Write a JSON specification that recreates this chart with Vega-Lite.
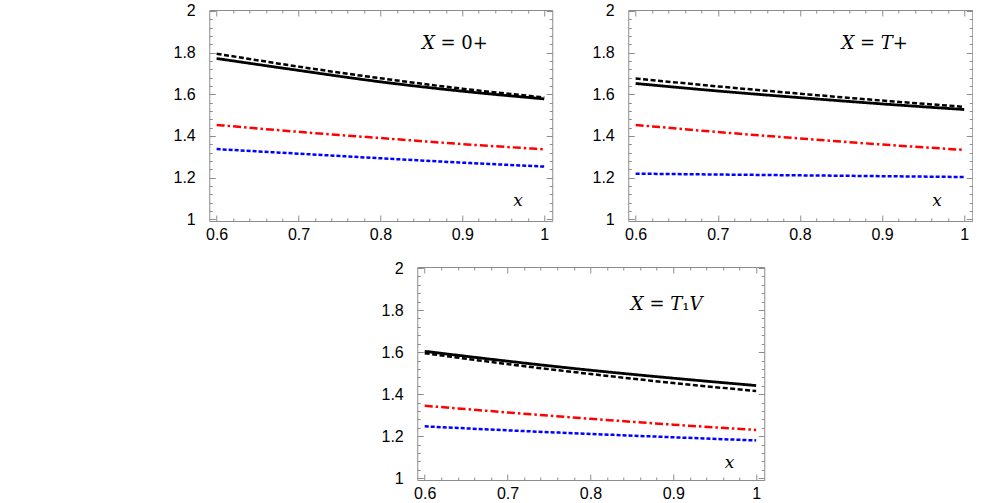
{
  "$schema": "https://vega.github.io/schema/vega-lite/v6.json",
  "padding": {"left": 173, "top": 2, "right": 0, "bottom": 0},
  "autosize": {"type": "pad"},
  "background": "white",
  "config": {
    "view": {"stroke": null},
    "axis": {
      "domainColor": "#8c8c8c",
      "tickColor": "#8c8c8c",
      "labelFont": "Liberation Sans",
      "labelFontSize": 16,
      "labelColor": "#000000",
      "grid": false,
      "title": null
    }
  },
  "datasets": {
    "curves": [
      {"panel": "A", "series": "solid", "x": 0.6, "y": 1.772},
      {"panel": "A", "series": "solid", "x": 0.7, "y": 1.715},
      {"panel": "A", "series": "solid", "x": 0.8, "y": 1.66},
      {"panel": "A", "series": "solid", "x": 0.9, "y": 1.615},
      {"panel": "A", "series": "solid", "x": 1.0, "y": 1.578},
      {"panel": "A", "series": "dashed", "x": 0.6, "y": 1.795},
      {"panel": "A", "series": "dashed", "x": 0.7, "y": 1.733},
      {"panel": "A", "series": "dashed", "x": 0.8, "y": 1.677},
      {"panel": "A", "series": "dashed", "x": 0.9, "y": 1.627},
      {"panel": "A", "series": "dashed", "x": 1.0, "y": 1.585},
      {"panel": "A", "series": "dashdot", "x": 0.6, "y": 1.453},
      {"panel": "A", "series": "dashdot", "x": 0.7, "y": 1.42},
      {"panel": "A", "series": "dashdot", "x": 0.8, "y": 1.39},
      {"panel": "A", "series": "dashdot", "x": 0.9, "y": 1.361},
      {"panel": "A", "series": "dashdot", "x": 1.0, "y": 1.336},
      {"panel": "A", "series": "dotted", "x": 0.6, "y": 1.337},
      {"panel": "A", "series": "dotted", "x": 0.7, "y": 1.315},
      {"panel": "A", "series": "dotted", "x": 0.8, "y": 1.293},
      {"panel": "A", "series": "dotted", "x": 0.9, "y": 1.272},
      {"panel": "A", "series": "dotted", "x": 1.0, "y": 1.253},
      {"panel": "B", "series": "solid", "x": 0.6, "y": 1.652},
      {"panel": "B", "series": "solid", "x": 0.7, "y": 1.616},
      {"panel": "B", "series": "solid", "x": 0.8, "y": 1.584},
      {"panel": "B", "series": "solid", "x": 0.9, "y": 1.554},
      {"panel": "B", "series": "solid", "x": 1.0, "y": 1.527},
      {"panel": "B", "series": "dashed", "x": 0.6, "y": 1.676},
      {"panel": "B", "series": "dashed", "x": 0.7, "y": 1.638},
      {"panel": "B", "series": "dashed", "x": 0.8, "y": 1.603},
      {"panel": "B", "series": "dashed", "x": 0.9, "y": 1.57},
      {"panel": "B", "series": "dashed", "x": 1.0, "y": 1.54},
      {"panel": "B", "series": "dashdot", "x": 0.6, "y": 1.453},
      {"panel": "B", "series": "dashdot", "x": 0.7, "y": 1.419},
      {"panel": "B", "series": "dashdot", "x": 0.8, "y": 1.388},
      {"panel": "B", "series": "dashdot", "x": 0.9, "y": 1.359},
      {"panel": "B", "series": "dashdot", "x": 1.0, "y": 1.333},
      {"panel": "B", "series": "dotted", "x": 0.6, "y": 1.219},
      {"panel": "B", "series": "dotted", "x": 0.7, "y": 1.215},
      {"panel": "B", "series": "dotted", "x": 0.8, "y": 1.211},
      {"panel": "B", "series": "dotted", "x": 0.9, "y": 1.207},
      {"panel": "B", "series": "dotted", "x": 1.0, "y": 1.203},
      {"panel": "C", "series": "solid", "x": 0.6, "y": 1.604},
      {"panel": "C", "series": "solid", "x": 0.7, "y": 1.557},
      {"panel": "C", "series": "solid", "x": 0.8, "y": 1.514},
      {"panel": "C", "series": "solid", "x": 0.9, "y": 1.476},
      {"panel": "C", "series": "solid", "x": 1.0, "y": 1.441},
      {"panel": "C", "series": "dashed", "x": 0.6, "y": 1.595},
      {"panel": "C", "series": "dashed", "x": 0.7, "y": 1.543},
      {"panel": "C", "series": "dashed", "x": 0.8, "y": 1.496},
      {"panel": "C", "series": "dashed", "x": 0.9, "y": 1.453},
      {"panel": "C", "series": "dashed", "x": 1.0, "y": 1.415},
      {"panel": "C", "series": "dashdot", "x": 0.6, "y": 1.345},
      {"panel": "C", "series": "dashdot", "x": 0.7, "y": 1.313},
      {"panel": "C", "series": "dashdot", "x": 0.8, "y": 1.283},
      {"panel": "C", "series": "dashdot", "x": 0.9, "y": 1.255},
      {"panel": "C", "series": "dashdot", "x": 1.0, "y": 1.23},
      {"panel": "C", "series": "dotted", "x": 0.6, "y": 1.247},
      {"panel": "C", "series": "dotted", "x": 0.7, "y": 1.228},
      {"panel": "C", "series": "dotted", "x": 0.8, "y": 1.211},
      {"panel": "C", "series": "dotted", "x": 0.9, "y": 1.195},
      {"panel": "C", "series": "dotted", "x": 1.0, "y": 1.18}
    ],
    "notes": [
      {"panel": "A", "kind": "title", "text": "𝑋 = 0+", "x": 0.891, "y": 1.842},
      {"panel": "A", "kind": "var", "text": "𝑥", "x": 0.968, "y": 1.088},
      {"panel": "B", "kind": "title", "text": "𝑋 = 𝑇+", "x": 0.891, "y": 1.842},
      {"panel": "B", "kind": "var", "text": "𝑥", "x": 0.967, "y": 1.088},
      {"panel": "C", "kind": "title", "text": "𝑋 = 𝑇₁𝑉", "x": 0.892, "y": 1.822},
      {"panel": "C", "kind": "var", "text": "𝑥", "x": 0.968, "y": 1.075}
    ]
  },
  "spacing": 15,
  "center": true,
  "vconcat": [
    {
      "spacing": 38,
      "hconcat": [
        {
          "width": 343, "height": 211,
          "resolve": {"axis": {"x": "independent", "y": "independent"}},
          "layer": [
            {
              "data": {"name": "curves"},
              "transform": [{"filter": "datum.panel === 'A' && datum.series === 'solid'"}],
              "mark": {"type": "line", "interpolate": "monotone", "strokeWidth": 2.8},
              "encoding": {
                "x": {"field": "x", "type": "quantitative", "scale": {"domain": [0.591, 1.0098], "nice": false, "zero": false},
                  "axis": {"orient": "bottom", "values": [0.6,0.62,0.64,0.66,0.68,0.7,0.72,0.74,0.76,0.78,0.8,0.82,0.84,0.86,0.88,0.9,0.92,0.94,0.96,0.98,1.0],
                    "labelExpr": "abs(datum.value*10-round(datum.value*10))<0.001 ? (datum.value>0.999 ? '1' : format(datum.value,'.1f')) : ''",
                    "tickSize": {"condition": {"test": "abs(datum.value*10-round(datum.value*10))<0.001", "value": -6}, "value": -3},
                    "labelPadding": 11, "labelFlush": false, "labelOverlap": false}},
                "y": {"field": "y", "type": "quantitative", "scale": {"domain": [0.9918, 2.0048], "nice": false, "zero": false},
                  "axis": {"orient": "left", "values": [1,1.04,1.08,1.12,1.16,1.2,1.24,1.28,1.32,1.36,1.4,1.44,1.48,1.52,1.56,1.6,1.64,1.68,1.72,1.76,1.8,1.84,1.88,1.92,1.96,2],
                    "labelExpr": "abs(datum.value*5-round(datum.value*5))<0.001 ? (abs(datum.value-round(datum.value))<0.001 ? format(datum.value,'.0f') : format(datum.value,'.1f')) : ''",
                    "tickSize": {"condition": {"test": "abs(datum.value*5-round(datum.value*5))<0.001", "value": -6}, "value": -3},
                    "labelPadding": 20, "labelFlush": false, "labelOverlap": false}},
                "color": {"field": "series", "type": "nominal", "legend": null, "scale": {"domain": ["solid", "dashed", "dashdot", "dotted"], "range": ["#000000", "#000000", "#ff0000", "#0000ff"]}},
                "strokeDash": {"field": "series", "type": "nominal", "legend": null, "scale": {"domain": ["solid", "dashed", "dashdot", "dotted"], "range": [[1, 0], [5, 2.5], [8, 3, 2.5, 3], [4, 2]]}}
              }
            },
            {
              "data": {"name": "curves"},
              "transform": [{"filter": "datum.panel === 'A' && datum.series !== 'solid'"}],
              "mark": {"type": "line", "interpolate": "monotone", "strokeWidth": 2.5},
              "encoding": {
                "x": {"field": "x", "type": "quantitative", "scale": {"domain": [0.591, 1.0098], "nice": false, "zero": false},
                  "axis": {"orient": "top", "labels": false, "values": [0.6,0.62,0.64,0.66,0.68,0.7,0.72,0.74,0.76,0.78,0.8,0.82,0.84,0.86,0.88,0.9,0.92,0.94,0.96,0.98,1.0],
                    "tickSize": {"condition": {"test": "abs(datum.value*10-round(datum.value*10))<0.001", "value": -6}, "value": -3}}},
                "y": {"field": "y", "type": "quantitative", "scale": {"domain": [0.9918, 2.0048], "nice": false, "zero": false},
                  "axis": {"orient": "right", "labels": false, "values": [1,1.04,1.08,1.12,1.16,1.2,1.24,1.28,1.32,1.36,1.4,1.44,1.48,1.52,1.56,1.6,1.64,1.68,1.72,1.76,1.8,1.84,1.88,1.92,1.96,2],
                    "tickSize": {"condition": {"test": "abs(datum.value*5-round(datum.value*5))<0.001", "value": -6}, "value": -3}}},
                "color": {"field": "series", "type": "nominal", "legend": null, "scale": {"domain": ["solid", "dashed", "dashdot", "dotted"], "range": ["#000000", "#000000", "#ff0000", "#0000ff"]}},
                "strokeDash": {"field": "series", "type": "nominal", "legend": null, "scale": {"domain": ["solid", "dashed", "dashdot", "dotted"], "range": [[1, 0], [5, 2.5], [8, 3, 2.5, 3], [4, 2]]}}
              }
            },
            {
              "data": {"name": "notes"},
              "transform": [{"filter": "datum.panel === 'A' && datum.kind === 'title'"}],
              "mark": {"type": "text", "font": "DejaVu Serif", "fontSize": 18, "align": "center", "baseline": "middle", "color": "#000000"},
              "encoding": {
                "x": {"field": "x", "type": "quantitative", "axis": null, "scale": {"domain": [0.591, 1.0098], "nice": false, "zero": false}},
                "y": {"field": "y", "type": "quantitative", "axis": null, "scale": {"domain": [0.9918, 2.0048], "nice": false, "zero": false}},
                "text": {"field": "text"}
              }
            },
            {
              "data": {"name": "notes"},
              "transform": [{"filter": "datum.panel === 'A' && datum.kind === 'var'"}],
              "mark": {"type": "text", "font": "DejaVu Serif", "fontSize": 17, "align": "center", "baseline": "middle", "color": "#000000"},
              "encoding": {
                "x": {"field": "x", "type": "quantitative", "axis": null, "scale": {"domain": [0.591, 1.0098], "nice": false, "zero": false}},
                "y": {"field": "y", "type": "quantitative", "axis": null, "scale": {"domain": [0.9918, 2.0048], "nice": false, "zero": false}},
                "text": {"field": "text"}
              }
            }
          ]
        },
        {
          "width": 344, "height": 211,
          "resolve": {"axis": {"x": "independent", "y": "independent"}},
          "layer": [
            {
              "data": {"name": "curves"},
              "transform": [{"filter": "datum.panel === 'B' && datum.series === 'solid'"}],
              "mark": {"type": "line", "interpolate": "monotone", "strokeWidth": 2.8},
              "encoding": {
                "x": {"field": "x", "type": "quantitative", "scale": {"domain": [0.591, 1.0098], "nice": false, "zero": false},
                  "axis": {"orient": "bottom", "values": [0.6,0.62,0.64,0.66,0.68,0.7,0.72,0.74,0.76,0.78,0.8,0.82,0.84,0.86,0.88,0.9,0.92,0.94,0.96,0.98,1.0],
                    "labelExpr": "abs(datum.value*10-round(datum.value*10))<0.001 ? (datum.value>0.999 ? '1' : format(datum.value,'.1f')) : ''",
                    "tickSize": {"condition": {"test": "abs(datum.value*10-round(datum.value*10))<0.001", "value": -6}, "value": -3},
                    "labelPadding": 11, "labelFlush": false, "labelOverlap": false}},
                "y": {"field": "y", "type": "quantitative", "scale": {"domain": [0.9918, 2.0048], "nice": false, "zero": false},
                  "axis": {"orient": "left", "values": [1,1.04,1.08,1.12,1.16,1.2,1.24,1.28,1.32,1.36,1.4,1.44,1.48,1.52,1.56,1.6,1.64,1.68,1.72,1.76,1.8,1.84,1.88,1.92,1.96,2],
                    "labelExpr": "abs(datum.value*5-round(datum.value*5))<0.001 ? (abs(datum.value-round(datum.value))<0.001 ? format(datum.value,'.0f') : format(datum.value,'.1f')) : ''",
                    "tickSize": {"condition": {"test": "abs(datum.value*5-round(datum.value*5))<0.001", "value": -6}, "value": -3},
                    "labelPadding": 20, "labelFlush": false, "labelOverlap": false}},
                "color": {"field": "series", "type": "nominal", "legend": null, "scale": {"domain": ["solid", "dashed", "dashdot", "dotted"], "range": ["#000000", "#000000", "#ff0000", "#0000ff"]}},
                "strokeDash": {"field": "series", "type": "nominal", "legend": null, "scale": {"domain": ["solid", "dashed", "dashdot", "dotted"], "range": [[1, 0], [5, 2.5], [8, 3, 2.5, 3], [4, 2]]}}
              }
            },
            {
              "data": {"name": "curves"},
              "transform": [{"filter": "datum.panel === 'B' && datum.series !== 'solid'"}],
              "mark": {"type": "line", "interpolate": "monotone", "strokeWidth": 2.5},
              "encoding": {
                "x": {"field": "x", "type": "quantitative", "scale": {"domain": [0.591, 1.0098], "nice": false, "zero": false},
                  "axis": {"orient": "top", "labels": false, "values": [0.6,0.62,0.64,0.66,0.68,0.7,0.72,0.74,0.76,0.78,0.8,0.82,0.84,0.86,0.88,0.9,0.92,0.94,0.96,0.98,1.0],
                    "tickSize": {"condition": {"test": "abs(datum.value*10-round(datum.value*10))<0.001", "value": -6}, "value": -3}}},
                "y": {"field": "y", "type": "quantitative", "scale": {"domain": [0.9918, 2.0048], "nice": false, "zero": false},
                  "axis": {"orient": "right", "labels": false, "values": [1,1.04,1.08,1.12,1.16,1.2,1.24,1.28,1.32,1.36,1.4,1.44,1.48,1.52,1.56,1.6,1.64,1.68,1.72,1.76,1.8,1.84,1.88,1.92,1.96,2],
                    "tickSize": {"condition": {"test": "abs(datum.value*5-round(datum.value*5))<0.001", "value": -6}, "value": -3}}},
                "color": {"field": "series", "type": "nominal", "legend": null, "scale": {"domain": ["solid", "dashed", "dashdot", "dotted"], "range": ["#000000", "#000000", "#ff0000", "#0000ff"]}},
                "strokeDash": {"field": "series", "type": "nominal", "legend": null, "scale": {"domain": ["solid", "dashed", "dashdot", "dotted"], "range": [[1, 0], [5, 2.5], [8, 3, 2.5, 3], [4, 2]]}}
              }
            },
            {
              "data": {"name": "notes"},
              "transform": [{"filter": "datum.panel === 'B' && datum.kind === 'title'"}],
              "mark": {"type": "text", "font": "DejaVu Serif", "fontSize": 18, "align": "center", "baseline": "middle", "color": "#000000"},
              "encoding": {
                "x": {"field": "x", "type": "quantitative", "axis": null, "scale": {"domain": [0.591, 1.0098], "nice": false, "zero": false}},
                "y": {"field": "y", "type": "quantitative", "axis": null, "scale": {"domain": [0.9918, 2.0048], "nice": false, "zero": false}},
                "text": {"field": "text"}
              }
            },
            {
              "data": {"name": "notes"},
              "transform": [{"filter": "datum.panel === 'B' && datum.kind === 'var'"}],
              "mark": {"type": "text", "font": "DejaVu Serif", "fontSize": 17, "align": "center", "baseline": "middle", "color": "#000000"},
              "encoding": {
                "x": {"field": "x", "type": "quantitative", "axis": null, "scale": {"domain": [0.591, 1.0098], "nice": false, "zero": false}},
                "y": {"field": "y", "type": "quantitative", "axis": null, "scale": {"domain": [0.9918, 2.0048], "nice": false, "zero": false}},
                "text": {"field": "text"}
              }
            }
          ]
        }
      ]
    },
    {
      "width": 347, "height": 213,
      "resolve": {"axis": {"x": "independent", "y": "independent"}},
      "layer": [
        {
          "data": {"name": "curves"},
          "transform": [{"filter": "datum.panel === 'C' && datum.series === 'solid'"}],
          "mark": {"type": "line", "interpolate": "monotone", "strokeWidth": 2.8},
          "encoding": {
            "x": {"field": "x", "type": "quantitative", "scale": {"domain": [0.591, 1.0098], "nice": false, "zero": false},
              "axis": {"orient": "bottom", "values": [0.6,0.62,0.64,0.66,0.68,0.7,0.72,0.74,0.76,0.78,0.8,0.82,0.84,0.86,0.88,0.9,0.92,0.94,0.96,0.98,1.0],
                "labelExpr": "abs(datum.value*10-round(datum.value*10))<0.001 ? (datum.value>0.999 ? '1' : format(datum.value,'.1f')) : ''",
                "tickSize": {"condition": {"test": "abs(datum.value*10-round(datum.value*10))<0.001", "value": -6}, "value": -3},
                "labelPadding": 11, "labelFlush": false, "labelOverlap": false}},
            "y": {"field": "y", "type": "quantitative", "scale": {"domain": [0.9918, 2.0048], "nice": false, "zero": false},
              "axis": {"orient": "left", "values": [1,1.04,1.08,1.12,1.16,1.2,1.24,1.28,1.32,1.36,1.4,1.44,1.48,1.52,1.56,1.6,1.64,1.68,1.72,1.76,1.8,1.84,1.88,1.92,1.96,2],
                "labelExpr": "abs(datum.value*5-round(datum.value*5))<0.001 ? (abs(datum.value-round(datum.value))<0.001 ? format(datum.value,'.0f') : format(datum.value,'.1f')) : ''",
                "tickSize": {"condition": {"test": "abs(datum.value*5-round(datum.value*5))<0.001", "value": -6}, "value": -3},
                "labelPadding": 20, "labelFlush": false, "labelOverlap": false}},
            "color": {"field": "series", "type": "nominal", "legend": null, "scale": {"domain": ["solid", "dashed", "dashdot", "dotted"], "range": ["#000000", "#000000", "#ff0000", "#0000ff"]}},
            "strokeDash": {"field": "series", "type": "nominal", "legend": null, "scale": {"domain": ["solid", "dashed", "dashdot", "dotted"], "range": [[1, 0], [5, 2.5], [8, 3, 2.5, 3], [4, 2]]}}
          }
        },
        {
          "data": {"name": "curves"},
          "transform": [{"filter": "datum.panel === 'C' && datum.series !== 'solid'"}],
          "mark": {"type": "line", "interpolate": "monotone", "strokeWidth": 2.5},
          "encoding": {
            "x": {"field": "x", "type": "quantitative", "scale": {"domain": [0.591, 1.0098], "nice": false, "zero": false},
              "axis": {"orient": "top", "labels": false, "values": [0.6,0.62,0.64,0.66,0.68,0.7,0.72,0.74,0.76,0.78,0.8,0.82,0.84,0.86,0.88,0.9,0.92,0.94,0.96,0.98,1.0],
                "tickSize": {"condition": {"test": "abs(datum.value*10-round(datum.value*10))<0.001", "value": -6}, "value": -3}}},
            "y": {"field": "y", "type": "quantitative", "scale": {"domain": [0.9918, 2.0048], "nice": false, "zero": false},
              "axis": {"orient": "right", "labels": false, "values": [1,1.04,1.08,1.12,1.16,1.2,1.24,1.28,1.32,1.36,1.4,1.44,1.48,1.52,1.56,1.6,1.64,1.68,1.72,1.76,1.8,1.84,1.88,1.92,1.96,2],
                "tickSize": {"condition": {"test": "abs(datum.value*5-round(datum.value*5))<0.001", "value": -6}, "value": -3}}},
            "color": {"field": "series", "type": "nominal", "legend": null, "scale": {"domain": ["solid", "dashed", "dashdot", "dotted"], "range": ["#000000", "#000000", "#ff0000", "#0000ff"]}},
            "strokeDash": {"field": "series", "type": "nominal", "legend": null, "scale": {"domain": ["solid", "dashed", "dashdot", "dotted"], "range": [[1, 0], [5, 2.5], [8, 3, 2.5, 3], [4, 2]]}}
          }
        },
        {
          "data": {"name": "notes"},
          "transform": [{"filter": "datum.panel === 'C' && datum.kind === 'title'"}],
          "mark": {"type": "text", "font": "DejaVu Serif", "fontSize": 18, "align": "center", "baseline": "middle", "color": "#000000"},
          "encoding": {
            "x": {"field": "x", "type": "quantitative", "axis": null, "scale": {"domain": [0.591, 1.0098], "nice": false, "zero": false}},
            "y": {"field": "y", "type": "quantitative", "axis": null, "scale": {"domain": [0.9918, 2.0048], "nice": false, "zero": false}},
            "text": {"field": "text"}
          }
        },
        {
          "data": {"name": "notes"},
          "transform": [{"filter": "datum.panel === 'C' && datum.kind === 'var'"}],
          "mark": {"type": "text", "font": "DejaVu Serif", "fontSize": 17, "align": "center", "baseline": "middle", "color": "#000000"},
          "encoding": {
            "x": {"field": "x", "type": "quantitative", "axis": null, "scale": {"domain": [0.591, 1.0098], "nice": false, "zero": false}},
            "y": {"field": "y", "type": "quantitative", "axis": null, "scale": {"domain": [0.9918, 2.0048], "nice": false, "zero": false}},
            "text": {"field": "text"}
          }
        }
      ]
    }
  ]
}
